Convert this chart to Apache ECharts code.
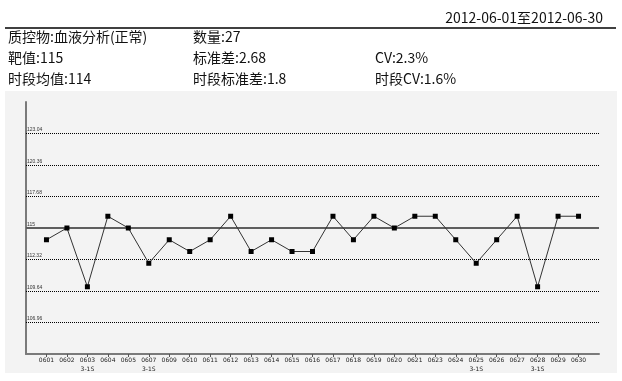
<!DOCTYPE html>
<html><head><meta charset="utf-8">
<script src="https://cdn.jsdelivr.net/npm/echarts@6/dist/echarts.min.js"></script>
<style>html,body{margin:0;padding:0;background:#fff}#c{width:622px;height:381px}</style>
</head><body><div id="c"></div>
<script>
const dateRange = '2012-06-01至2012-06-30';
const infoRows = [
  ['质控物:血液分析(正常)', '数量:27', ''],
  ['靶值:115', '标准差:2.68', 'CV:2.3%'],
  ['时段均值:114', '时段标准差:1.8', '时段CV:1.6%']
];
const categories = ['0601','0602','0603','0604','0605','0607','0609','0610','0611','0612','0613','0614','0615','0616','0617','0618','0619','0620','0621','0623','0624','0625','0626','0627','0628','0629','0630'];
const ruleFlags = ['','','3-1S','','','3-1S','','','','','','','','','','','','','','','','3-1S','','','3-1S','',''];
const values = [114,115,110,116,115,112,114,113,114,116,113,114,113,113,116,114,116,115,116,116,114,112,114,116,110,116,116];
const target = 115;
const sd = 2.68;
const dottedLevels = [106.96, 109.64, 112.32, 117.68, 120.36, 123.04];
const yMin = 104.28, yMax = 125.72;

const axisCats = [''].concat(categories, ['']);
const font = '"Noto Sans CJK SC", sans-serif';
const colX = [8, 193, 375];
const rowY = [37, 58, 79];
const graphics = [
  {type:'rect', z:-10, shape:{x:5,y:91,width:612,height:282}, style:{fill:'#f3f3f3'}},
  {type:'line', shape:{x1:5,y1:28,x2:616,y2:28}, style:{stroke:'#000',lineWidth:1.5}},
  {type:'text', x:603, y:18, style:{text:dateRange, fill:'#111', font:'14px '+font, textAlign:'right', textVerticalAlign:'middle'}}
];
infoRows.forEach((row, r) => row.forEach((t, c) => {
  if (t) graphics.push({type:'text', x:colX[c], y:rowY[r], style:{text:t, fill:'#111', font:'14px '+font, textAlign:'left', textVerticalAlign:'middle'}});
}));

const markData = dottedLevels.map(v => ({yAxis:v, label:{formatter: String(v)}, lineStyle:{type:'dotted', color:'#000', width:1}}));
markData.push({yAxis:target, label:{formatter:String(target)}, lineStyle:{type:'solid', color:'#5e5e5e', width:2}});

const chart = echarts.init(document.getElementById('c'), null, {renderer:'canvas'});
chart.setOption({
  backgroundColor:'#fff',
  animation:false,
  graphic: graphics,
  grid:{left:26, right:23, top:102, bottom:27, containLabel:false},
  xAxis:{
    type:'category', data:axisCats, boundaryGap:false,
    axisLine:{lineStyle:{color:'#7a7a7a', width:2}},
    axisTick:{show:true, length:3, interval:(i)=> i>0 && i<axisCats.length-1, lineStyle:{color:'#555'}},
    axisLabel:{interval:0, fontSize:6, color:'#222', margin:2, lineHeight:9, fontFamily:'DejaVu Sans',
      formatter:(v, i)=> { const k=i-1; if (k<0||k>=categories.length) return ''; return ruleFlags[k] ? v+'\n'+ruleFlags[k] : v; }}
  },
  yAxis:{
    type:'value', min:yMin, max:yMax,
    axisLine:{show:true, lineStyle:{color:'#7a7a7a', width:2}},
    axisTick:{show:false}, axisLabel:{show:false}, splitLine:{show:false}
  },
  series:[{
    type:'line',
    data: values.map((v,i)=>[i+1, v]),
    symbol:'rect', symbolSize:5,
    lineStyle:{color:'#333', width:1},
    itemStyle:{color:'#000'},
    z:5,
    markLine:{
      silent:true, symbol:['none','none'],
      label:{position:'insideStartTop', fontSize:5, color:'#333', distance:[1,1]},
      data: markData
    }
  }]
});
</script></body></html>
